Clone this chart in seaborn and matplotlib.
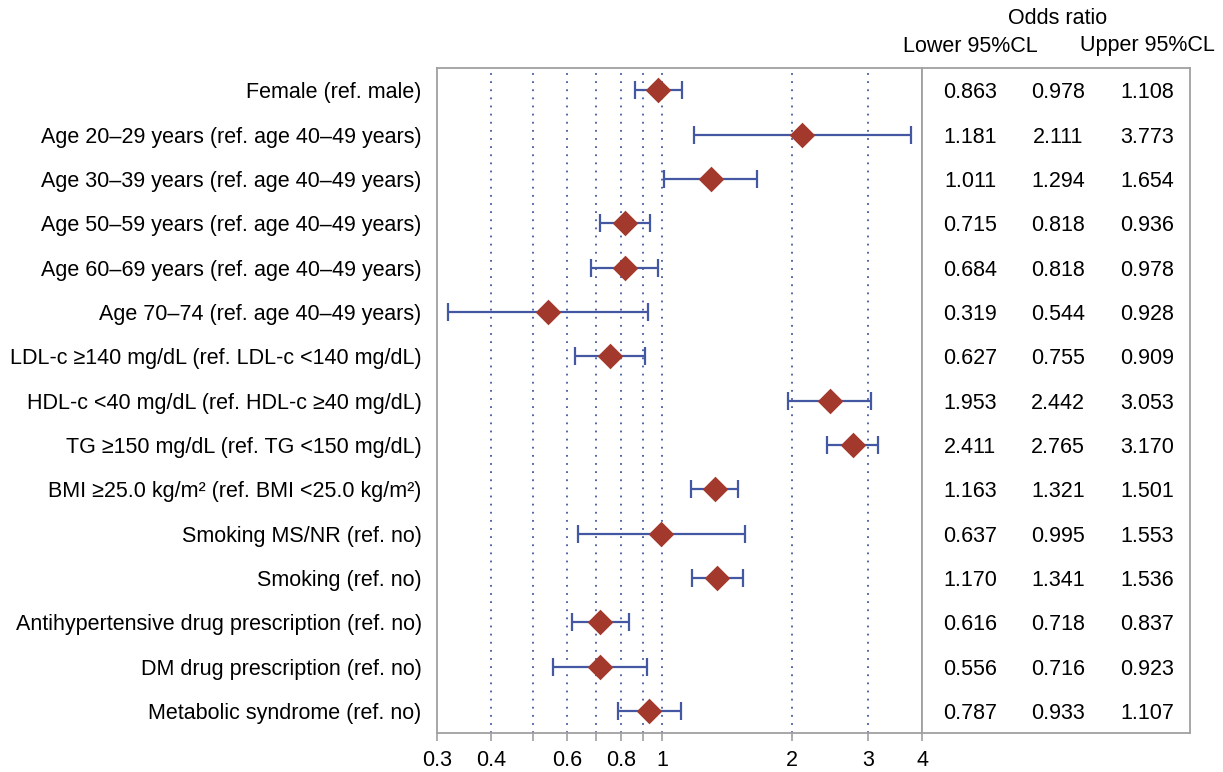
import numpy as np
import pandas as pd
import matplotlib
matplotlib.use("Agg")
import matplotlib.pyplot as plt
import seaborn as sns
from matplotlib.ticker import FixedLocator, FixedFormatter, NullFormatter

labels = [
    "Female (ref. male)",
    "Age 20\u201329 years (ref. age 40\u201349 years)",
    "Age 30\u201339 years (ref. age 40\u201349 years)",
    "Age 50\u201359 years (ref. age 40\u201349 years)",
    "Age 60\u201369 years (ref. age 40\u201349 years)",
    "Age 70\u201374 (ref. age 40\u201349 years)",
    "LDL-c \u2265140 mg/dL (ref. LDL-c <140 mg/dL)",
    "HDL-c <40 mg/dL (ref. HDL-c \u226540 mg/dL)",
    "TG \u2265150 mg/dL (ref. TG <150 mg/dL)",
    "BMI \u226525.0 kg/m\u00b2 (ref. BMI <25.0 kg/m\u00b2)",
    "Smoking MS/NR (ref. no)",
    "Smoking (ref. no)",
    "Antihypertensive drug prescription (ref. no)",
    "DM drug prescription (ref. no)",
    "Metabolic syndrome (ref. no)",
]
lower = [0.863, 1.181, 1.011, 0.715, 0.684, 0.319, 0.627, 1.953, 2.411, 1.163, 0.637, 1.170, 0.616, 0.556, 0.787]
odds = [0.978, 2.111, 1.294, 0.818, 0.818, 0.544, 0.755, 2.442, 2.765, 1.321, 0.995, 1.341, 0.718, 0.716, 0.933]
upper = [1.108, 3.773, 1.654, 0.936, 0.978, 0.928, 0.909, 3.053, 3.170, 1.501, 1.553, 1.536, 0.837, 0.923, 1.107]

tick_vals = [0.3, 0.4, 0.6, 0.8, 1, 2, 3, 4]
tick_labels = ["0.3", "0.4", "0.6", "0.8", "1", "2", "3", "4"]
minor_vals = [0.5, 0.7, 0.9]
grid_vals = [0.4, 0.5, 0.6, 0.7, 0.8, 0.9, 1, 2, 3]

header_top = "Odds ratio"
header_lower = "Lower 95%CL"
header_upper = "Upper 95%CL"

RED = "#A3392C"
BLUE = "#4457A3"
GRAY = "#A0A0A0"
FS = 15.5

sns.set_theme(style="white")
plt.rcParams['font.family'] = ['Liberation Sans', 'DejaVu Sans']
plt.rcParams['text.color'] = 'black'

fig = plt.figure(figsize=(12.23, 7.72), dpi=100)
ax = fig.add_axes([0.3573, 0.0505, 0.3966, 0.8614])
tax = fig.add_axes([0.7539, 0.0505, 0.2191, 0.8614])

df = pd.DataFrame(dict(label=labels, lower=lower, odds=odds, upper=upper))
df["pos"] = np.arange(len(df))

for g in grid_vals:
    ax.axvline(g, color=BLUE, linestyle=(0, (1, 3.5)), lw=1.3, zorder=1)

ax.errorbar(df["odds"], df["pos"],
            xerr=[df["odds"] - df["lower"], df["upper"] - df["odds"]],
            fmt="none", ecolor=BLUE, elinewidth=1.6, capsize=6.2, capthick=1.6, zorder=2)
sns.scatterplot(data=df, x="odds", y="pos", marker="D", s=170, color=RED,
                edgecolor=RED, linewidth=0, ax=ax, zorder=3, legend=False)

ax.set_xscale("log")
ax.set_xlim(0.3, 4)
ax.set_ylim(len(df) - 0.5, -0.5)
ax.set_xlabel("")
ax.set_ylabel("")
ax.xaxis.set_major_locator(FixedLocator(tick_vals))
ax.xaxis.set_major_formatter(FixedFormatter(tick_labels))
ax.xaxis.set_minor_locator(FixedLocator(minor_vals))
ax.xaxis.set_minor_formatter(NullFormatter())
ax.tick_params(axis="x", which="both", bottom=True, direction="out", length=5.5,
               width=1.2, color=GRAY, labelsize=FS, pad=7, labelcolor="black")
ax.set_yticks(df["pos"])
ax.set_yticklabels(df["label"])
ax.tick_params(axis="y", left=False, length=0, labelsize=FS, pad=11, labelcolor="black")
for s in ax.spines.values():
    s.set_color(GRAY)
    s.set_linewidth(1.3)
    s.set_visible(True)

tax.set_xlim(0, 1)
tax.set_ylim(len(df) - 0.5, -0.5)
tax.set_xticks([])
tax.set_yticks([])
for s in tax.spines.values():
    s.set_color(GRAY)
    s.set_linewidth(1.3)
    s.set_visible(True)
col_x = [0.179, 0.507, 0.840]
for i, row in df.iterrows():
    for cx, v in zip(col_x, (row["lower"], row["odds"], row["upper"])):
        tax.text(cx, row["pos"], f"{v:.3f}", ha="center", va="center_baseline",
                 fontsize=FS, color="black")

fig.text(1058 / 1223, 1 - 18 / 772, header_top, ha="center", va="center", fontsize=FS, color="black")
fig.text(970 / 1223, 1 - 46 / 772, header_lower, ha="center", va="center", fontsize=FS, color="black")
fig.text(1147 / 1223, 1 - 46 / 772, header_upper, ha="center", va="center", fontsize=FS, color="black")

fig.savefig("out.png", dpi=100)
